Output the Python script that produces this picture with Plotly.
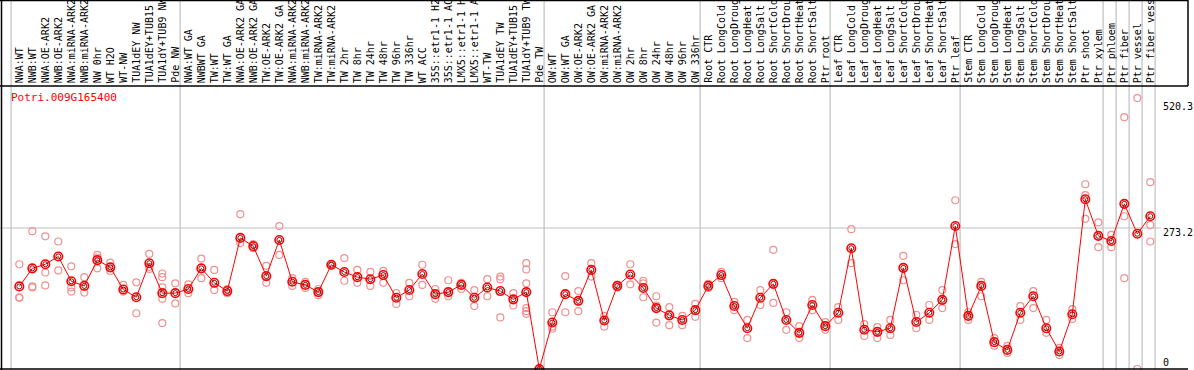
import plotly.graph_objects as go

# ---------------- data ----------------
categories = [
    "NWA:WT", "NWB:WT", "NWA:OE-ARK2", "NWB:OE-ARK2", "NWA:miRNA-ARK2", "NWB:miRNA-ARK2",
    "NW 0hr", "WT H2O", "WT-NW", "TUA1dEY NW", "TUA1dEY+TUB15", "TUA1dY+TUB9 NW", "Pde NW",
    "NWA:WT GA", "NWBWT GA", "TW:WT", "TW:WT GA", "NWA:OE-ARK2 GA", "NWB:OE-ARK2 GA",
    "TW:OE-ARK2", "TW:OE-ARK2 GA", "NWA:miRNA-ARK2", "NWB:miRNA-ARK2", "TW:miRNA-ARK2",
    "TW:miRNA-ARK2", "TW 2hr", "TW 8hr", "TW 24hr", "TW 48hr", "TW 96hr", "TW 336hr",
    "WT ACC", "35S::etr1-1 H2", "35S::etr1-1 AC", "LMX5::etr1-1 H", "LMX5::etr1-1 A",
    "WT-TW", "TUA1dEY TW", "TUA1dEY+TUB15", "TUA1dY+TUB9 TW", "Pde TW",
    "OW:WT", "OW:WT GA", "OW:OE-ARK2", "OW:OE-ARK2 GA", "OW:miRNA-ARK2", "OW:miRNA-ARK2",
    "OW 2hr", "OW 8hr", "OW 24hr", "OW 48hr", "OW 96hr", "OW 336hr",
    "Root CTR", "Root LongCold", "Root LongDroug", "Root LongHeat", "Root LongSalt",
    "Root ShortCold", "Root ShortDrou", "Root ShortHeat", "Root ShortSalt", "Ptr root",
    "Leaf CTR", "Leaf LongCold", "Leaf LongDroug", "Leaf LongHeat", "Leaf LongSalt",
    "Leaf ShortCold", "Leaf ShortDrou", "Leaf ShortHeat", "Leaf ShortSalt", "Ptr leaf",
    "Stem CTR", "Stem LongCold", "Stem LongDroug", "Stem LongHeat", "Stem LongSalt",
    "Stem ShortCold", "Stem ShortDrou", "Stem ShortHeat", "Stem ShortSalt",
    "Ptr shoot", "Ptr xylem", "Ptr phloem", "Ptr fiber", "Ptr vessel", "Ptr fiber vess",
]

means = [
    160, 195, 203, 218, 170, 161, 211, 197, 154, 139, 205, 147, 147,
    155, 195, 167, 151, 254, 238, 180, 250, 169, 163, 149, 202, 188, 178, 174, 182, 138, 153,
    184, 145, 149, 163, 138, 158, 151, 135, 149, 0,
    90, 145, 132, 192, 94, 161, 183, 157, 118, 104, 95, 114,
    161, 182, 122, 79, 138, 165, 95, 70, 124, 83,
    109, 234, 76, 72, 79, 196, 91, 109, 134, 277,
    103, 161, 52, 37, 109, 141, 79, 34, 106,
    329, 258, 248, 320, 262, 296,
]

replicates = [
    [203, 139, 138], [267, 158, 160], [257, 187, 162], [247, 191], [199, 158, 150], [178, 148],
    [221, 216, 195], [206, 190], [163, 150], [168, 108], [223, 198, 194],
    [185, 178, 158, 136, 89], [166, 127],
    [164, 147], [214, 176], [192, 153], [155, 147], [300, 244], [242, 234], [200, 167],
    [277, 221], [176, 161], [169, 157], [155, 143], [203, 200], [215, 171], [192, 167],
    [188, 161], [190, 167], [147, 126], [167, 141],
    [202, 163], [155, 136], [172, 141], [167, 155], [153, 122],
    [174, 141], [179, 174, 100], [147, 123], [205, 193, 166, 118, 112, 107], [0, 0],
    [110, 82, 78], [180, 110], [151, 112], [205, 179], [103, 82], [163, 158], [203, 164],
    [171, 166, 139], [141, 123, 90], [120, 85], [103, 85], [126, 101],
    [165, 157], [188, 176], [130, 114], [95, 60], [153, 124], [231, 128], [110, 76],
    [83, 60], [134, 114], [91, 76],
    [120, 95], [271, 205], [87, 64], [81, 60], [95, 66], [219, 172], [105, 79], [124, 95],
    [153, 118], [327, 242],
    [110, 95], [169, 141], [60, 45], [45, 31], [122, 95], [151, 118], [95, 70], [41, 27],
    [116, 97],
    [358, 337, 291], [284, 236], [260, 236], [296, 176, 488], [525, 0], [279, 247, 362],
]

gene_name = "Potri.009G165400"
axis_labels = ["520.3", "273.2", "0"]
axis_values = [520.3, 273.2, 0]
separators_after = [-1, 12, 40, 52, 62, 72, 83, 84, 85, 86, 87]

# ---------------- layout helpers ----------------
W, H = 1194, 370
PX_PER_UNIT = 0.5161      # vertical scale in px per unit
ZERO_PX = 369             # pixel row of value 0
X0_PX, STEP_PX = 19.3, 13.0

xr = [-X0_PX / STEP_PX, (W - X0_PX) / STEP_PX]
yr = [-(H - ZERO_PX) / PX_PER_UNIT, ZERO_PX / PX_PER_UNIT]


def px_x(p):
    return p / W


def px_y(p):
    return 1 - p / H


mono = "DejaVu Sans Mono"
idx = list(range(len(categories)))

fig = go.Figure()

# replicates
rx, ry = [], []
for i, reps in enumerate(replicates):
    for v in reps:
        rx.append(i)
        ry.append(v)
fig.add_trace(go.Scatter(
    x=rx, y=ry, mode="markers",
    marker=dict(symbol="circle-open", size=7, color="#f09090", line=dict(width=1.2)),
    hoverinfo="skip", showlegend=False, cliponaxis=False,
))

# means
fig.add_trace(go.Scatter(
    x=idx, y=means, mode="lines+markers",
    line=dict(color="#ff0000", width=1),
    marker=dict(symbol="circle-open", size=8.5, color="#ff0000", line=dict(width=1.6)),
    hoverinfo="skip", showlegend=False, cliponaxis=False,
))
fig.add_trace(go.Scatter(
    x=idx, y=means, mode="markers",
    marker=dict(symbol="circle-open", size=5, color="#600000", line=dict(width=0.9)),
    hoverinfo="skip", showlegend=False, cliponaxis=False,
))

shapes = []
# group separators (gray)
for s in separators_after:
    xv = s + 0.37
    shapes.append(dict(type="line", xref="x", yref="paper", x0=xv, x1=xv, y0=0, y1=1,
                       line=dict(color="#c0c0c0", width=1.2), layer="below"))
# horizontal reference line
shapes.append(dict(type="line", xref="paper", yref="y", x0=0, x1=px_x(1161),
                   y0=axis_values[1], y1=axis_values[1],
                   line=dict(color="#c0c0c0", width=1.2), layer="below"))
# black frame
blk = dict(color="#000000", width=1.5)
shapes += [
    dict(type="line", xref="paper", yref="paper", x0=px_x(1.5), x1=px_x(1.5), y0=0, y1=1, line=blk),
    dict(type="line", xref="paper", yref="paper", x0=0, x1=px_x(1188), y0=px_y(0.5), y1=px_y(0.5), line=blk),
    dict(type="line", xref="paper", yref="paper", x0=0, x1=px_x(1188), y0=px_y(86), y1=px_y(86), line=blk),
    dict(type="line", xref="paper", yref="paper", x0=px_x(1188), x1=px_x(1188), y0=px_y(86), y1=1, line=blk),
    dict(type="line", xref="paper", yref="y", x0=0, x1=px_x(1188), y0=0, y1=0, line=blk),
]

annotations = []
for i, lab in enumerate(categories):
    annotations.append(dict(
        x=i, xref="x", y=px_y(85), yref="paper", text=lab, textangle=-90,
        showarrow=False, xanchor="center", yanchor="bottom",
        font=dict(family=mono, size=10, color="#000000"),
    ))
annotations.append(dict(
    x=px_x(9), xref="paper", y=px_y(97), yref="paper", text=gene_name,
    showarrow=False, xanchor="left", yanchor="middle",
    font=dict(family=mono, size=11, color="#ff0000"),
))
for lab, val, shift in zip(axis_labels, axis_values, [-6, -4, 7]):
    annotations.append(dict(
        x=px_x(1162), xref="paper", y=val, yref="y", yshift=shift, text=lab,
        showarrow=False, xanchor="left", yanchor="middle", borderpad=0,
        font=dict(family=mono, size=10, color="#000000"),
    ))

fig.update_layout(
    width=W, height=H,
    margin=dict(l=0, r=0, t=0, b=0),
    paper_bgcolor="#ffffff", plot_bgcolor="#ffffff",
    xaxis=dict(range=xr, visible=False, fixedrange=True),
    yaxis=dict(range=yr, visible=False, fixedrange=True),
    shapes=shapes, annotations=annotations,
)

fig.write_html(
    "out.html",
    config={"displayModeBar": False},
    post_script="document.body.style.margin='0';document.body.style.padding='0';",
)
